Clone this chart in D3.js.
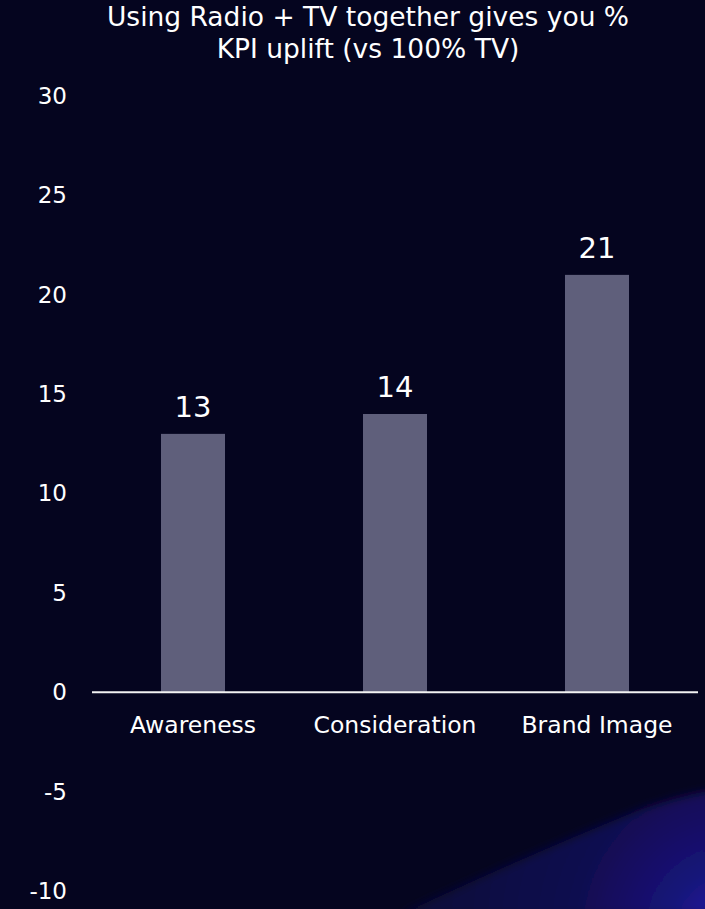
<!DOCTYPE html>
<html>
<head>
<meta charset="utf-8">
<script src="https://cdn.jsdelivr.net/npm/d3@7"></script>
<style>
  html, body { margin: 0; padding: 0; background: #05051f; }
  svg { display: block; }
  text { font-family: "DejaVu Sans", Verdana, sans-serif; fill: #ffffff; }
</style>
</head>
<body>
<svg id="chart" width="705" height="909"></svg>
<script>
// Chart data
const titleLines = ["Using Radio + TV together gives you %", "KPI uplift (vs 100% TV)"];
const categories = ["Awareness", "Consideration", "Brand Image"];
const values = [13, 14, 21];
const yTicks = [30, 25, 20, 15, 10, 5, 0, -5, -10];

const W = 705, H = 909;
const svg = d3.select("#chart");
const defs = svg.append("defs");

// Background
svg.append("rect").attr("width", W).attr("height", H).attr("fill", "#05051f");

// Soft blue glow in the lower-right corner
const grad = defs.append("radialGradient")
  .attr("id", "glow").attr("gradientUnits", "userSpaceOnUse")
  .attr("cx", 730).attr("cy", 930).attr("r", 340);
grad.append("stop").attr("offset", "0%").attr("stop-color", "#2420b0");
grad.append("stop").attr("offset", "18%").attr("stop-color", "#18137a");
grad.append("stop").attr("offset", "45%").attr("stop-color", "#110d50");
grad.append("stop").attr("offset", "100%").attr("stop-color", "#0b0936");
defs.append("filter").attr("id", "soft")
  .attr("x", "-20%").attr("y", "-20%").attr("width", "140%").attr("height", "140%")
  .append("feGaussianBlur").attr("stdDeviation", 5);
svg.append("path")
  .attr("d", "M400,915 C470,882 560,842 640,810 C670,799 700,792 715,790 L715,915 Z")
  .attr("fill", "url(#glow)")
  .attr("filter", "url(#soft)");

// Scales
const x = d3.scaleBand()
  .domain(categories)
  .range([92, 698])
  .paddingInner(0.683)
  .paddingOuter(0.3415);
const y = d3.scaleLinear().domain([-10, 30]).range([891, 96]);

// Title
const title = svg.append("text")
  .attr("x", 368).attr("y", 26)
  .attr("text-anchor", "middle")
  .style("font-size", "26.5px");
title.selectAll("tspan").data(titleLines).join("tspan")
  .attr("x", 368)
  .attr("dy", (d, i) => i === 0 ? 0 : 32)
  .text(d => d);

// Y axis labels (no axis line), plain hyphen for negatives
const yAxis = d3.axisLeft(y).tickValues(yTicks).tickSize(0).tickPadding(0).tickFormat(d => String(d));
const gy = svg.append("g").attr("transform", "translate(67,0)").call(yAxis);
gy.select(".domain").remove();
gy.selectAll("text")
  .attr("fill", "#ffffff")
  .style("font-family", "\"DejaVu Sans\", Verdana, sans-serif")
  .style("font-size", "23px");

// Bars
svg.append("g").selectAll("rect").data(values).join("rect")
  .attr("x", (d, i) => x(categories[i]))
  .attr("width", x.bandwidth())
  .attr("y", d => y(Math.max(0, d)))
  .attr("height", d => Math.abs(y(d) - y(0)))
  .attr("fill", "#5f5f7b");

// Value labels
svg.append("g").selectAll("text").data(values).join("text")
  .attr("x", (d, i) => x(categories[i]) + x.bandwidth() / 2)
  .attr("y", d => y(d) - 17)
  .attr("text-anchor", "middle")
  .style("font-size", "29px")
  .text(d => d);

// Zero baseline with category labels beneath
const xAxis = d3.axisBottom(x).tickSize(0).tickPadding(0);
const gx = svg.append("g").attr("transform", `translate(0,${y(0)})`).call(xAxis);
gx.select(".domain")
  .attr("d", "M92,0H698")
  .attr("stroke", "#f2f2f2")
  .attr("stroke-width", 2);
gx.selectAll("text")
  .attr("fill", "#ffffff")
  .attr("dy", null)
  .attr("y", 41)
  .style("font-family", "\"DejaVu Sans\", Verdana, sans-serif")
  .style("font-size", "23.5px");
</script>
</body>
</html>
